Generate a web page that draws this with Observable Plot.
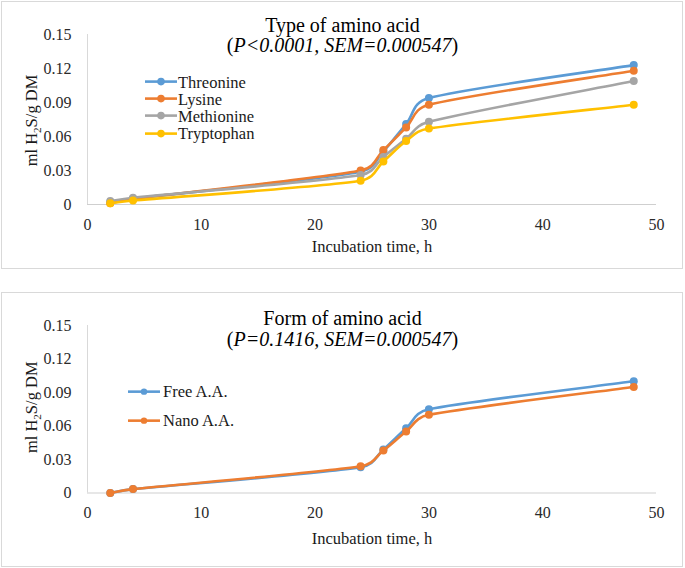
<!DOCTYPE html>
<html>
<head>
<meta charset="utf-8">
<script src="https://cdn.jsdelivr.net/npm/d3@7"></script>
<script src="https://cdn.jsdelivr.net/npm/@observablehq/plot@0.6"></script>
<style>
  html, body { margin: 0; padding: 0; background: #fff; }
  #page { position: relative; width: 685px; height: 568px; overflow: hidden; background: #fff;
          font-family: "Liberation Serif", "Tinos", "Times New Roman", "DejaVu Serif", serif; }
  .panel { position: absolute; left: 0; width: 685px; }
  .frame { position: absolute; border: 1px solid #d9d9d9; box-sizing: border-box; pointer-events: none; }
  .legend { position: absolute; font-size: 16.5px; color: #1a1a1a; }
  .legend .row { display: flex; align-items: center; white-space: nowrap; }
  .legend svg { display: block; flex: none; }
</style>
</head>
<body>
<div id="page"></div>
<script>
// ---- data ----
const hours = [2, 4, 24, 26, 28, 30, 48];

const typeNames = ["Threonine", "Lysine", "Methionine", "Tryptophan"];
const threonine  = [0.002, 0.005, 0.029, 0.047, 0.071, 0.094, 0.123];
const lysine     = [0.001, 0.005, 0.030, 0.048, 0.068, 0.088, 0.118];
const methionine = [0.003, 0.006, 0.026, 0.042, 0.058, 0.073, 0.109];
const tryptophan = [0.001, 0.0035, 0.021, 0.038, 0.056, 0.067, 0.088];
const typeColors = ["#5B9BD5", "#ED7D31", "#A5A5A5", "#FFC000"];

const formNames = ["Free A.A.", "Nano A.A."];
const freeAA = [0.000, 0.0035, 0.023, 0.039, 0.058, 0.075, 0.100];
const nanoAA = [0.000, 0.0035, 0.024, 0.038, 0.055, 0.070, 0.095];
const formColors = ["#5B9BD5", "#ED7D31"];

const xTicks = [0, 10, 20, 30, 40, 50];
const yTicks = [0, 0.03, 0.06, 0.09, 0.12, 0.15];

const xLabel = "Incubation time, h";
const yLabel = "ml H2S/g DM";

const FONT = "'Liberation Serif', 'Tinos', 'Times New Roman', 'DejaVu Serif', serif";

// Spreadsheet-style smoothed line: Bezier handles = (next - prev)/6, capped at half the segment, in pixel space
function curveSmooth(context) {
  let pts;
  return {
    areaStart() {}, areaEnd() {},
    lineStart() { pts = []; },
    point(x, y) { pts.push([+x, +y]); },
    lineEnd() {
      const n = pts.length;
      if (!n) return;
      context.moveTo(pts[0][0], pts[0][1]);
      for (let i = 0; i < n - 1; i++) {
        const p0 = pts[Math.max(i - 1, 0)], p1 = pts[i], p2 = pts[i + 1], p3 = pts[Math.min(i + 2, n - 1)];
        const d12 = Math.hypot(p2[0] - p1[0], p2[1] - p1[1]);
        const d02 = Math.hypot(p2[0] - p0[0], p2[1] - p0[1]);
        const d13 = Math.hypot(p3[0] - p1[0], p3[1] - p1[1]);
        const f1 = d02 > 0 ? Math.min(1 / 6, (d12 / 2) / d02) : 0;
        const f2 = d13 > 0 ? Math.min(1 / 6, (d12 / 2) / d13) : 0;
        context.bezierCurveTo(
          p1[0] + f1 * (p2[0] - p0[0]), p1[1] + f1 * (p2[1] - p0[1]),
          p2[0] - f2 * (p3[0] - p1[0]), p2[1] - f2 * (p3[1] - p1[1]),
          p2[0], p2[1]);
      }
    }
  };
}

// ---- chart builder ----
function makeChart(cfg) {
  const marks = [
    Plot.ruleY([0], {stroke: "#cfcfcf", strokeWidth: 1.2}),
    Plot.ruleX([0], {stroke: "#d9d9d9", strokeWidth: 1}),
  ];
  cfg.series.forEach((vals, i) => {
    const data = hours.map((h, j) => ({h, v: vals[j]}));
    marks.push(Plot.line(data, {x: "h", y: "v", stroke: cfg.colors[i], strokeWidth: 2.6, curve: curveSmooth}));
    marks.push(Plot.dot(data, {x: "h", y: "v", fill: cfg.colors[i], r: 4}));
  });
  marks.push(
    Plot.text([cfg.title], {text: d => d, frameAnchor: "top", dx: -29.5, dy: cfg.titleDy, lineAnchor: "bottom", fontSize: 20, fill: "#000"}),
    Plot.text([cfg.subtitle], {text: d => d, frameAnchor: "top", dx: -29.5, dy: cfg.subDy, lineAnchor: "bottom", fontSize: 20, fill: "#000"}),
    Plot.text([xLabel], {text: d => d, frameAnchor: "bottom", dy: cfg.xLabelDy, lineAnchor: "bottom", fontSize: 16.5, fill: "#1a1a1a"}),
    Plot.text([yLabel], {text: d => d, frameAnchor: "left", textAnchor: "middle", dx: -51, dy: cfg.yLabelDy, rotate: -90, lineAnchor: "bottom", fontSize: 16.5, fill: "#1a1a1a"})
  );
  const svg = Plot.plot({
    width: 685,
    height: cfg.height,
    marginLeft: 87,
    marginRight: 29,
    marginTop: cfg.marginTop,
    marginBottom: cfg.marginBottom,
    style: {fontFamily: FONT, fontSize: "16px", color: "#2a2a2a", background: "transparent", overflow: "visible"},
    x: {domain: [0, 50], ticks: xTicks, tickSize: 0, tickPadding: 14, label: null},
    y: {domain: [0, 0.15], ticks: yTicks, tickSize: 0, tickPadding: 16, label: null,
        tickFormat: d => d === 0 ? "0" : d.toFixed(2)},
    marks
  });
  // rich text fixes: subscript and italics
  d3.select(svg).selectAll("text").each(function () {
    const t = d3.select(this);
    const s = this.textContent;
    if (s === yLabel) {
      t.text(null);
      t.append("tspan").text("ml H");
      t.append("tspan").attr("font-size", "11px").attr("dy", "4").text("2");
      t.append("tspan").attr("dy", "-4").text("S/g DM");
    } else if (s === cfg.subtitle) {
      t.text(null);
      t.append("tspan").text("(");
      t.append("tspan").attr("font-style", "italic").text(s.slice(1, -1));
      t.append("tspan").text(")");
    }
  });
  return svg;
}

function makeLegend(names, colors, left, top, rowH, lineW, r, gap) {
  const div = document.createElement("div");
  div.className = "legend";
  div.style.left = left + "px";
  div.style.top = top + "px";
  names.forEach((n, i) => {
    const row = document.createElement("div");
    row.className = "row";
    row.style.height = rowH + "px";
    row.innerHTML = `<svg width="${lineW + gap}" height="${rowH}"><line x1="0" x2="${lineW}" y1="${rowH/2}" y2="${rowH/2}" stroke="${colors[i]}" stroke-width="2.6"/><circle cx="${lineW/2}" cy="${rowH/2}" r="${r}" fill="${colors[i]}"/></svg><span style="position:relative; top:1px">${n}</span>`;
    div.appendChild(row);
  });
  return div;
}

const page = document.getElementById("page");

// top panel
const p1 = document.createElement("div");
p1.className = "panel"; p1.style.top = "0px";
p1.appendChild(makeChart({
  series: [threonine, lysine, methionine, tryptophan], colors: typeColors,
  height: 270, marginTop: 34, marginBottom: 66,
  title: "Type of amino acid", subtitle: "(P<0.0001, SEM=0.000547)",
  titleDy: -3, subDy: 17.5, xLabelDy: 47.5, yLabelDy: 1
}));
page.appendChild(p1);

// bottom panel
const p2 = document.createElement("div");
p2.className = "panel"; p2.style.top = "285px";
p2.appendChild(makeChart({
  series: [freeAA, nanoAA], colors: formColors,
  height: 283, marginTop: 40, marginBottom: 75.5,
  title: "Form of amino acid", subtitle: "(P=0.1416, SEM=0.000547)",
  titleDy: -1, subDy: 20.5, xLabelDy: 50.5, yLabelDy: -2
}));
page.appendChild(p2);

// frames
[[1, 1, 682, 268], [1, 292, 682, 275]].forEach(([l, t, w, h]) => {
  const f = document.createElement("div");
  f.className = "frame";
  Object.assign(f.style, {left: l + "px", top: t + "px", width: w + "px", height: h + "px"});
  page.appendChild(f);
});

// legends
page.appendChild(makeLegend(typeNames, typeColors, 145, 73, 17.2, 32, 3.8, 1));
page.appendChild(makeLegend(formNames, formColors, 128, 376.5, 29.3, 32, 3.2, 3));
</script>
</body>
</html>
